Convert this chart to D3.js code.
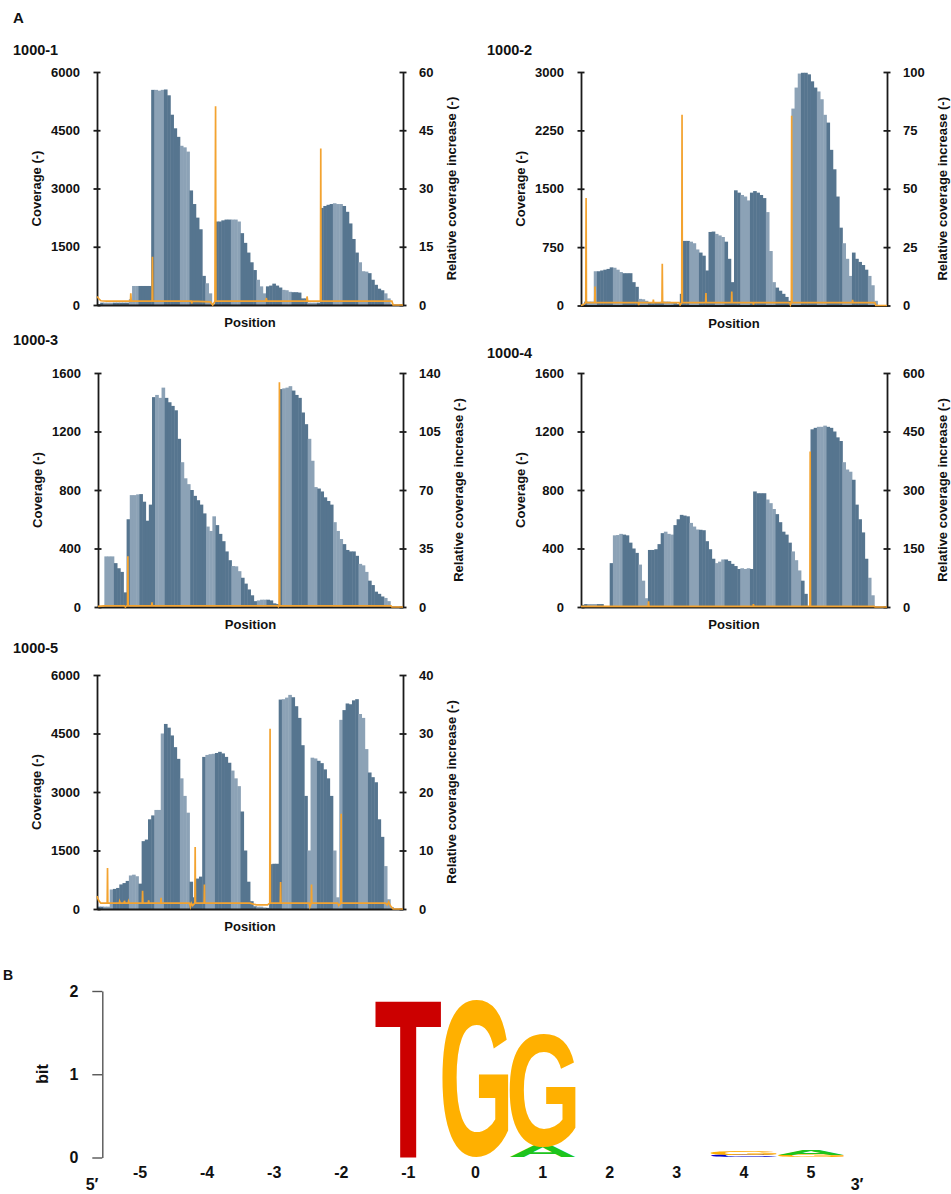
<!DOCTYPE html>
<html><head><meta charset="utf-8">
<script src="https://cdn.jsdelivr.net/npm/d3@7"></script>
<style>
body{margin:0;background:#fff}
svg{display:block}
text{font-family:"Liberation Sans",Arial,Helvetica,sans-serif;font-weight:bold}
</style>
</head><body>
<svg id="chart" width="951" height="1194"></svg>
<script>
// ---------------- DATA ----------------
const panelNames = ["1000-1","1000-2","1000-3","1000-4","1000-5"];
const coverageTicks = [[0,1500,3000,4500,6000],[0,750,1500,2250,3000],[0,400,800,1200,1600],[0,400,800,1200,1600],[0,1500,3000,4500,6000]];
const ratioTicks = [[0,15,30,45,60],[0,25,50,75,100],[0,35,70,105,140],[0,150,300,450,600],[0,10,20,30,40]];

// coverage per position bin (96 bins per sample)
const coverage1 = [20,60,60,60,60,60,60,60,60,60,150,490,490,490,490,490,490,5540,5540,5520,5540,5550,5400,4900,4550,4330,4100,4060,3950,2950,2600,2250,1950,750,560,300,20,2150,2150,2180,2200,2200,2200,2200,2150,1850,1600,1350,1100,900,650,480,300,480,500,550,500,450,390,380,340,330,330,320,170,170,60,60,60,60,2500,2550,2580,2600,2620,2600,2600,2550,2400,2100,1700,1350,1100,870,860,820,650,520,420,380,300,170,20,0,0,0];
const coverage2 = [0,50,50,50,440,440,450,460,470,490,485,460,430,415,415,415,300,240,85,80,60,40,30,40,40,50,50,50,40,30,20,150,830,830,820,800,720,680,640,450,945,950,920,900,880,820,600,300,1480,1450,1420,1400,1350,1450,1470,1450,1420,1380,1200,700,300,230,190,150,110,60,2530,2800,2980,2990,2990,2970,2880,2800,2750,2650,2450,2350,2000,1750,1400,1000,800,600,380,680,600,560,520,460,380,260,60,0,0,0];
const coverage3 = [0,0,346,346,346,300,265,240,100,600,765,765,770,772,720,590,700,1435,1450,1430,1500,1430,1400,1375,1345,1150,990,880,840,800,760,730,700,640,550,520,620,560,500,450,380,320,280,278,245,200,160,120,80,40,45,50,50,50,45,25,20,1490,1495,1500,1510,1480,1450,1430,1330,1250,1150,1000,820,810,790,750,725,700,580,520,465,430,390,380,380,350,295,285,240,180,150,105,90,72,62,40,0,0,0,0];
const coverage4 = [15,20,20,20,20,20,20,0,0,300,490,492,500,495,490,440,400,370,290,180,60,390,390,395,430,505,515,500,495,560,600,630,625,620,575,550,530,528,525,450,395,330,300,310,325,325,315,295,280,260,265,260,265,260,790,778,778,778,735,710,670,635,580,515,495,440,380,320,250,180,90,0,1215,1225,1232,1232,1240,1232,1225,1200,1160,1135,990,940,925,870,700,600,510,330,200,80,0,0,0,0];
const coverage5 = [60,60,60,60,500,515,540,630,665,720,860,880,840,650,1740,1780,2300,2400,2540,2540,4500,4745,4650,4450,4150,3850,3350,2900,2470,700,300,780,830,3900,3950,3970,3980,4000,4030,3990,3900,3750,3550,3350,3150,2500,1500,700,200,70,60,60,40,30,1150,1160,1160,5370,5380,5420,5490,5430,5200,4900,4200,2900,1500,3880,3860,3800,3740,3580,3350,2900,1500,300,4850,5100,5270,5250,5350,5380,5000,4900,4100,3500,3380,3250,2300,1850,1100,250,50,0,0,0];

// relative coverage increase: [position bin, value]
const ratio1 = [[0,2.2],[0.6,1.6],[1.2,1.1],[3,1.0],[10.5,1.0],[10.6,3.0],[10.75,1.0],[17.3,1.0],[17.4,12.4],[17.5,1.0],[29.6,1.0],[29.7,0.4],[29.9,1.0],[35.6,0.8],[36.3,0],[37.0,0.9],[37.2,51.2],[37.3,1.0],[53.0,1.0],[53.1,1.8],[53.3,1.0],[65.8,1.0],[65.9,2.2],[66.1,1.0],[70.1,1.0],[70.2,40.3],[70.3,1.0],[92.5,1.0],[92.9,0],[96,0]];
const ratio2 = [[0,0],[0.8,0.4],[1.5,1.2],[1.6,46],[1.7,1.2],[4.3,1.2],[4.4,8.1],[4.5,1.2],[18.0,1.2],[18.1,0.2],[18.2,1.2],[22.6,1.2],[22.7,2.5],[22.8,1.2],[25.4,1.2],[25.5,17.9],[25.6,1.2],[30.8,1.2],[31.1,0.3],[31.6,1.2],[31.7,81.7],[31.8,1.2],[39.1,1.2],[39.2,5.3],[39.3,1.2],[47.2,1.2],[47.3,6.0],[47.4,1.2],[54.0,1.2],[54.1,0.4],[54.2,1.2],[65.5,1.2],[65.7,0.3],[66.0,1.2],[66.1,81.3],[66.2,1.2],[85.1,1.2],[85.2,2.4],[85.3,1.2],[92.2,1.2],[92.5,0],[96,0]];
const ratio3 = [[0,0.4],[2,0.7],[8.3,0.7],[8.6,0],[9.0,0.7],[9.3,0.7],[9.4,30.3],[9.5,0.7],[16.9,0.7],[17.0,2.8],[17.1,0.7],[56.5,0.7],[56.8,0.2],[57.0,0.7],[57.1,134.4],[57.2,0.7],[92.2,0.7],[92.5,0],[96,0]];
const ratio4 = [[0,1.5],[21.1,1.5],[21.2,14.5],[21.3,1.5],[54.0,1.5],[54.1,7.7],[54.2,1.5],[71.8,1.5],[71.9,399],[72.0,1.5],[92.0,1.5],[92.3,0],[96,0]];
const ratio5 = [[0,2.2],[0.5,1.5],[1.2,1.0],[3.2,1.0],[3.3,7.0],[3.4,1.0],[7.0,1.0],[7.1,1.3],[7.3,1.0],[8.5,1.0],[8.6,1.4],[8.8,1.0],[9.8,1.0],[9.9,1.3],[10.1,1.0],[14.2,1.0],[14.3,3.1],[14.4,1.0],[16.1,1.0],[16.2,1.5],[16.3,1.0],[20.0,1.0],[20.1,1.9],[20.2,1.0],[29.0,1.0],[29.3,0.4],[29.6,1.0],[30.0,0.6],[30.7,1.0],[30.8,10.6],[30.9,1.0],[33.6,1.0],[33.7,4.2],[33.8,1.0],[48,1.0],[50,0.7],[53.5,0.7],[54.2,1.0],[54.3,30.8],[54.4,1.0],[57.5,1.0],[57.6,4.6],[57.7,1.0],[66.6,1.0],[66.8,0.4],[67.2,1.0],[67.3,4.2],[67.4,1.0],[75.5,1.0],[75.8,0.6],[76.5,1.0],[76.6,16.3],[76.7,1.0],[90.5,1.0],[91.0,0.7],[91.5,1.2],[92.0,0.6],[92.9,0],[96,0]];

// sequence logo (bits per position)
const logoPositions = [-5,-4,-3,-2,-1,0,1,2,3,4,5];
const bitsA = [0,0,0,0,0,0,0.13,0,0,0,0.06];
const bitsC = [0,0,0,0,0,0,0,0,0,0.035,0];
const bitsG = [0,0,0,0,0,1.89,1.36,0,0,0.04,0.035];
const bitsT = [0,0,0,0,1.89,0,0,0,0,0,0];
const logoTicks = [0,1,2];

// ---------------- LAYOUT / STYLE ----------------
const coverages = [coverage1,coverage2,coverage3,coverage4,coverage5];
const ratios = [ratio1,ratio2,ratio3,ratio4,ratio5];
const nBins = 96;
const layouts = [
  {left:97, right:403, top:72, bottom:305, tx:13, ty:55},
  {left:581,right:887, top:72, bottom:305.5, tx:487, ty:55},
  {left:98, right:403, top:373, bottom:607, tx:13, ty:345},
  {left:581,right:887, top:373, bottom:607, tx:487, ty:358},
  {left:97, right:403, top:675, bottom:909, tx:13, ty:653}
];
const DARK = "#56758F", LIGHT = "#8CA2B6", ORANGE = "#F3A330", AXIS = "#1a1a1a", INK = "#111";

const svg = d3.select("#chart");
svg.append("text").attr("x",13).attr("y",23).attr("font-size","15px").attr("fill",INK).text("A");

coverages.forEach((cov, i) => {
  const L = layouts[i];
  const g = svg.append("g");
  const x = d3.scaleLinear().domain([0, nBins]).range([L.left, L.right]);
  const yL = d3.scaleLinear().domain([0, d3.max(coverageTicks[i])]).range([L.bottom, L.top]);
  const yR = d3.scaleLinear().domain([0, d3.max(ratioTicks[i])]).range([L.bottom, L.top]);

  g.append("text").attr("x", L.tx).attr("y", L.ty).attr("font-size","14.5px").attr("fill",INK).text(panelNames[i]);

  // coverage bars
  g.append("g").selectAll("rect").data(cov).join("rect")
    .attr("x", (d,j) => x(j))
    .attr("width", (d,j) => x(j+1) - x(j) + 0.45)
    .attr("y", d => yL(d))
    .attr("height", d => yL(0) - yL(d))
    .attr("fill", (d,j) => [2,3,4].includes(j % 8) ? LIGHT : DARK);

  // axes
  const axL = g.append("g").attr("transform", `translate(${L.left},0)`)
    .call(d3.axisLeft(yL).tickValues(coverageTicks[i]).tickSize(3.5).tickSizeOuter(0).tickPadding(13.5).tickFormat(d3.format("d")));
  const axR = g.append("g").attr("transform", `translate(${L.right},0)`)
    .call(d3.axisRight(yR).tickValues(ratioTicks[i]).tickSize(3.5).tickSizeOuter(0).tickPadding(12.5).tickFormat(d3.format("d")));
  const axB = g.append("g").attr("transform", `translate(0,${L.bottom})`)
    .call(d3.axisBottom(x).tickValues([]).tickSizeOuter(0));
  [axL, axR, axB].forEach(a => {
    a.select(".domain").attr("stroke", AXIS).attr("stroke-width", 1.8);
    a.selectAll(".tick line").attr("stroke", AXIS).attr("stroke-width", 1.8);
    a.selectAll(".tick text").attr("font-size","13px").attr("fill",INK)
      .style("font-family",'"Liberation Sans",Arial,sans-serif').style("font-weight","bold");
  });
  axL.selectAll(".tick line").attr("x1", 3.5);
  axR.selectAll(".tick line").attr("x1", -3.5);

  // ratio line
  const line = d3.line().x(d => x(d[0])).y(d => yR(d[1]));
  g.append("path").datum(ratios[i]).attr("d", line)
    .attr("fill","none").attr("stroke", ORANGE).attr("stroke-width", 1.7).attr("stroke-linejoin","miter");

  // axis titles
  const bl = axL.node().getBBox();
  const br = axR.node().getBBox();
  const midY = (L.top + L.bottom) / 2;
  g.append("text").attr("transform", `translate(${L.left + bl.x - 15},${midY}) rotate(-90)`)
    .attr("text-anchor","middle").attr("dominant-baseline","central").attr("font-size","13px").attr("fill",INK).text("Coverage (-)");
  g.append("text").attr("transform", `translate(${L.right + br.x + br.width + 18},${midY}) rotate(-90)`)
    .attr("text-anchor","middle").attr("dominant-baseline","central").attr("font-size","13px").attr("fill",INK).text("Relative coverage increase (-)");
  g.append("text").attr("x", (L.left + L.right) / 2).attr("y", L.bottom + 22)
    .attr("text-anchor","middle").attr("font-size","13px").attr("fill",INK).text("Position");
});

// ---------------- PANEL B: sequence logo ----------------
svg.append("text").attr("x",3).attr("y",980).attr("font-size","14px").attr("fill",INK).text("B");
const xB = d3.scaleBand().domain(logoPositions).range([106, 845]).padding(0.015);
const yB = d3.scaleLinear().domain([0, 2]).range([1157.5, 991]);
const logoAxisX = 102.3;

const axLogo = svg.append("g").attr("transform", `translate(${logoAxisX},0)`)
  .call(d3.axisLeft(yB).tickValues(logoTicks).tickSize(10).tickSizeOuter(0).tickPadding(14).tickFormat(d3.format("d")));
axLogo.select(".domain").attr("stroke","#555").attr("stroke-width",1.4);
axLogo.selectAll(".tick line").attr("stroke","#555").attr("stroke-width",1.4);
axLogo.selectAll(".tick text").attr("font-size","16px").attr("fill",INK)
  .style("font-family",'"Liberation Sans",Arial,sans-serif').style("font-weight","bold");
svg.append("text").attr("transform", `translate(42.7,1074) rotate(-90)`).attr("text-anchor","middle")
  .attr("dominant-baseline","central").attr("font-size","16px").attr("fill",INK).text("bit");

svg.append("g").selectAll("text").data(logoPositions).join("text")
  .attr("x", d => xB(d) + xB.bandwidth()/2).attr("y", 1178)
  .attr("text-anchor","middle").attr("font-size","16px").attr("fill",INK).text(d => d);
svg.append("text").attr("x", xB.range()[0] - 14).attr("y", 1190).attr("text-anchor","middle").attr("font-size","16px").attr("fill",INK).text("5\u2032");
svg.append("text").attr("x", xB.range()[1] + 12).attr("y", 1190).attr("text-anchor","middle").attr("font-size","16px").attr("fill",INK).text("3\u2032");

const letterColors = {A:"#1DC41D", C:"#0000CC", G:"#FFB000", T:"#CC0000"};
const letterBits = {A:bitsA, C:bitsC, G:bitsG, T:bitsT};
const FS = 200;
const mc = document.createElement("canvas").getContext("2d");
mc.font = `bold ${FS}px "Liberation Sans"`;
const gLogo = svg.append("g");
logoPositions.forEach((p, k) => {
  const stack = Object.keys(letterBits).map(ch => ({ch, v: letterBits[ch][k]}))
    .filter(d => d.v > 0).sort((a,b) => a.v - b.v);
  let base = 0;
  stack.forEach(d => {
    const m = mc.measureText(d.ch);
    const l = m.actualBoundingBoxLeft, r = m.actualBoundingBoxRight;
    const a = m.actualBoundingBoxAscent, de = m.actualBoundingBoxDescent;
    const x0 = xB(p), w = xB.bandwidth();
    const yb = yB(base), h = yB(base) - yB(base + d.v);
    const sx = w / (l + r), sy = h / (a + de);
    gLogo.append("text").attr("font-size", FS + "px")
      .style("fill", letterColors[d.ch])
      .style("font-family",'"Liberation Sans"').style("font-weight","bold")
      .attr("transform", `translate(${x0},${yb}) scale(${sx},${sy}) translate(${l},${-de})`)
      .text(d.ch);
    base += d.v;
  });
});
</script>
</body></html>
